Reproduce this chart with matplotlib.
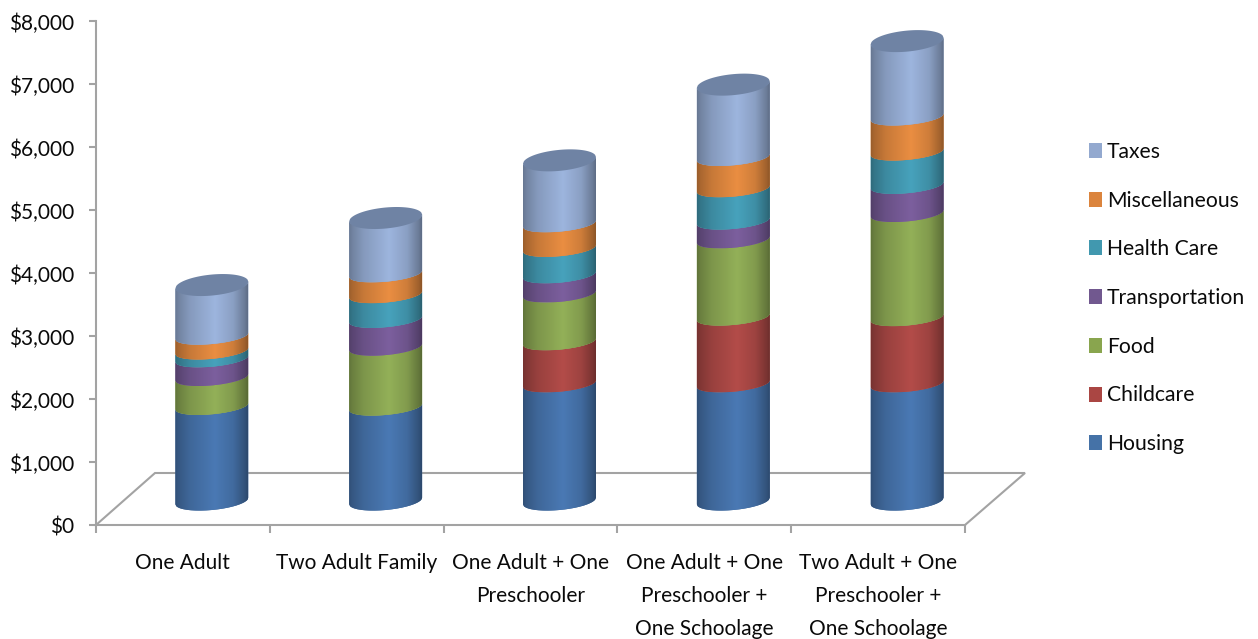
import numpy as np
import matplotlib
matplotlib.use("Agg")
import matplotlib.pyplot as plt
from matplotlib.path import Path
from matplotlib.patches import PathPatch, Patch
from matplotlib.ticker import FuncFormatter
from matplotlib.transforms import ScaledTranslation

categories = ["One Adult", "Two Adult Family", "One Adult + One\nPreschooler",
              "One Adult + One\nPreschooler +\nOne Schoolage",
              "Two Adult + One\nPreschooler +\nOne Schoolage"]
series_names = ["Housing", "Childcare", "Food", "Transportation",
                "Health Care", "Miscellaneous", "Taxes"]
housing = [1503, 1492, 1862, 1862, 1862]
childcare = [0, 0, 667, 1059, 1050]
food = [460, 952, 760, 1227, 1654]
transportation = [295, 441, 303, 297, 446]
health_care = [125, 392, 420, 513, 529]
miscellaneous = [235, 330, 390, 497, 556]
taxes = [810, 885, 1005, 1154, 1203]
series_values = [housing, childcare, food, transportation, health_care, miscellaneous, taxes]
legend_colors = ["#4572A7", "#AA4643", "#89A54E", "#71588F", "#4198AF", "#DB843D", "#93A9CF"]
bright_colors = ["#4A79B4", "#B34C49", "#93B058", "#7C5F9E", "#47A2BC", "#EA8E42", "#9DB5DE"]
yticks = list(range(0, 8001, 1000))

W, H = 1258, 639
X0, X1, Y0, Y1 = 96, 965, 525, 21
PX = 5 / (X1 - X0)          # categories per pixel
PY = 8000 / (Y0 - Y1)       # dollars per pixel
GREY = "#A3A3A3"
FONT = "Lato"
TEXT = "#0A0A0A"

fig = plt.figure(figsize=(W / 100, H / 100), dpi=100, facecolor="white")
ax = fig.add_axes([X0 / W, 1 - Y0 / H, (X1 - X0) / W, (Y0 - Y1) / H])
ax.set_xlim(-0.5, 4.5)
ax.set_ylim(0, 8000)

# floor
fx = [-0.5, -0.5 + 59 * PX, 4.5 + 60 * PX, 4.5]
fy = [0, 52 * PY, 52 * PY, 0]
ax.plot(fx, fy, color=GREY, lw=1.5, clip_on=False, zorder=1, solid_joinstyle="miter")

# cylinder geometry
DX, DY = 29 * PX, 24 * PY
HW = 36.5 * PX
SK = 3.3 * PY
u = np.linspace(-1, 1, 81)
stops = [0, .04, .2, .55, .8, .96, 1]
facs = [.66, .72, .85, 1.0, .88, .68, .6]
grad = np.interp(np.linspace(0, 1, 146), stops, facs)


def arc(cx, v, b, sign=-1):
    return cx + HW * u, v + SK * u + sign * b * PY * np.sqrt(1 - u ** 2)


for i in range(len(categories)):
    cx = i + DX
    base = DY
    for s, vals in enumerate(series_values):
        if vals[i] == 0:
            continue
        top = base + vals[i]
        bb = 9 if s == 0 else 8
        xb, yb = arc(cx, base, bb)
        xt, yt = arc(cx, top, 8)
        px = np.r_[xb, xt[::-1], xb[0]]
        py = np.r_[yb, yt[::-1], yb[0]]
        col = np.array(matplotlib.colors.to_rgb(bright_colors[s]))
        patch = PathPatch(Path(np.c_[px, py]), transform=ax.transData,
                          fc=col * 0.85, ec="none", zorder=2 + s * .01)
        ax.add_patch(patch)
        img = (col[None, None, :] * grad[None, :, None]).clip(0, 1)
        im = ax.imshow(img, extent=[cx - HW, cx + HW, py.min(), py.max()],
                       aspect="auto", origin="lower", interpolation="bilinear",
                       zorder=2.001 + s * .01)
        im.set_clip_path(patch)
        base = top
    xf, yf = arc(cx, base, 10.5, -1)
    xk, yk = arc(cx, base, 10.5, 1)
    ax.fill(np.r_[xf, xk[::-1]], np.r_[yf, yk[::-1]], color="#6F83A4", ec="none", zorder=3)

ax.set_xlim(-0.5, 4.5)
ax.set_ylim(0, 8000)

# axes
for sp in ("top", "right"):
    ax.spines[sp].set_visible(False)
for sp in ("left", "bottom"):
    ax.spines[sp].set_color(GREY)
    ax.spines[sp].set_linewidth(1.5)
ax.spines["bottom"].set_zorder(1)
ax.patch.set_alpha(0)
ax.set_yticks(yticks)
ax.yaxis.set_major_formatter(FuncFormatter(lambda v, _: f"${v:,.0f}"))
ax.tick_params(axis="y", length=5, width=1.5, color=GREY, pad=10.8, labelsize=15,
               labelfontfamily=FONT, labelcolor=TEXT)
shift = ScaledTranslation(0, -1 / 100, fig.dpi_scale_trans)
for lab in ax.get_yticklabels():
    lab.set_transform(lab.get_transform() + shift)
ax.set_xticks(np.arange(-0.5, 4.6, 1))
ax.set_xticklabels([])
ax.tick_params(axis="x", which="major", length=5.5, width=1.5, color=GREY)
ax.set_xticks(range(5), minor=True)
ax.set_xticklabels(categories, minor=True, fontsize=15, family=FONT, color=TEXT,
                   linespacing=1.83, va="top")
ax.tick_params(axis="x", which="minor", length=0, pad=20)

handles = [Patch(fc=c, ec="none", label=n) for c, n in zip(legend_colors, series_names)][::-1]
fs = 15.2
fpx = fs * 100 / 72
leg = fig.legend(handles=handles, loc="center left", bbox_to_anchor=(1089 / W, 1 - 298 / H),
                 frameon=False, prop={"family": FONT, "size": fs}, borderpad=0, borderaxespad=0,
                 handlelength=13 / fpx, handleheight=15 / fpx, handletextpad=5 / fpx,
                 labelspacing=1.36, labelcolor=TEXT)

fig.savefig("out.png", dpi=100)
